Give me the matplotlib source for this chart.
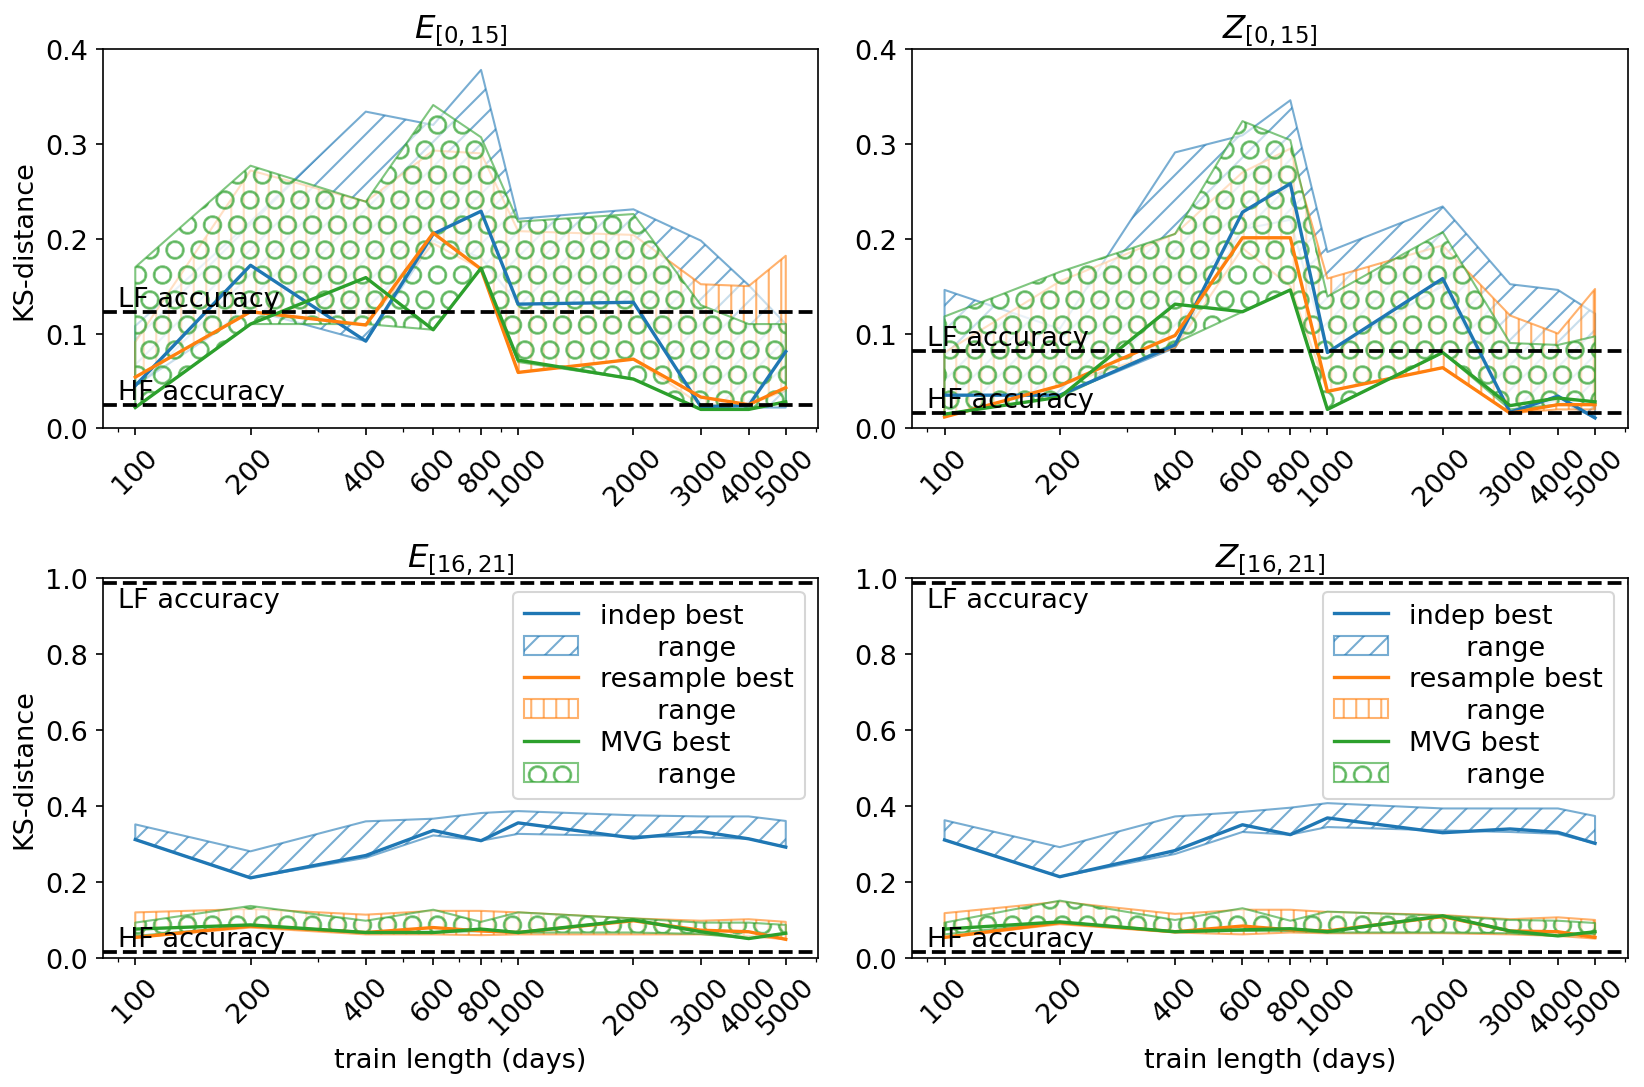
import matplotlib
matplotlib.use("Agg")
import matplotlib.pyplot as plt
from matplotlib.ticker import NullFormatter

plt.rcParams['font.size'] = 13
plt.rcParams['hatch.linewidth'] = 1.0

days = [100, 200, 400, 600, 800, 1000, 2000, 3000, 4000, 5000]
day_labels = [str(d) for d in days]

# E[0,15]
e015_indep_best = [0.045, 0.172, 0.092, 0.205, 0.229, 0.131, 0.133, 0.023, 0.024, 0.081]
e015_indep_lo = [0.045, 0.125, 0.092, 0.198, 0.180, 0.131, 0.133, 0.023, 0.022, 0.022]
e015_indep_hi = [0.108, 0.218, 0.334, 0.320, 0.378, 0.221, 0.231, 0.198, 0.151, 0.110]
e015_res_best = [0.054, 0.123, 0.109, 0.206, 0.168, 0.059, 0.073, 0.033, 0.025, 0.043]
e015_res_lo = [0.054, 0.123, 0.109, 0.195, 0.168, 0.059, 0.073, 0.025, 0.025, 0.040]
e015_res_hi = [0.091, 0.272, 0.239, 0.293, 0.290, 0.208, 0.204, 0.152, 0.150, 0.182]
e015_mvg_best = [0.022, 0.110, 0.159, 0.104, 0.169, 0.072, 0.052, 0.020, 0.020, 0.028]
e015_mvg_lo = [0.022, 0.110, 0.110, 0.104, 0.169, 0.070, 0.052, 0.020, 0.020, 0.028]
e015_mvg_hi = [0.170, 0.277, 0.239, 0.341, 0.307, 0.218, 0.226, 0.130, 0.110, 0.110]

# Z[0,15]
z015_indep_best = [0.035, 0.035, 0.088, 0.228, 0.258, 0.080, 0.158, 0.017, 0.034, 0.011]
z015_indep_lo = [0.035, 0.035, 0.085, 0.210, 0.220, 0.080, 0.150, 0.017, 0.030, 0.011]
z015_indep_hi = [0.146, 0.105, 0.291, 0.309, 0.346, 0.186, 0.234, 0.152, 0.146, 0.121]
z015_res_best = [0.012, 0.045, 0.098, 0.201, 0.201, 0.039, 0.064, 0.016, 0.025, 0.025]
z015_res_lo = [0.012, 0.045, 0.085, 0.190, 0.150, 0.039, 0.064, 0.016, 0.020, 0.020]
z015_res_hi = [0.080, 0.155, 0.205, 0.270, 0.295, 0.158, 0.193, 0.119, 0.100, 0.147]
z015_mvg_best = [0.015, 0.033, 0.131, 0.123, 0.146, 0.020, 0.080, 0.024, 0.032, 0.028]
z015_mvg_lo = [0.015, 0.033, 0.090, 0.123, 0.146, 0.020, 0.080, 0.020, 0.025, 0.025]
z015_mvg_hi = [0.118, 0.165, 0.205, 0.324, 0.304, 0.139, 0.207, 0.090, 0.088, 0.097]

# E[16,21]
e1621_indep_best = [0.311, 0.210, 0.269, 0.335, 0.308, 0.355, 0.315, 0.332, 0.313, 0.291]
e1621_indep_lo = [0.311, 0.210, 0.263, 0.322, 0.308, 0.326, 0.320, 0.317, 0.313, 0.291]
e1621_indep_hi = [0.351, 0.280, 0.359, 0.366, 0.381, 0.386, 0.375, 0.372, 0.372, 0.360]
e1621_res_best = [0.053, 0.083, 0.066, 0.079, 0.070, 0.066, 0.097, 0.072, 0.068, 0.048]
e1621_res_lo = [0.053, 0.079, 0.061, 0.061, 0.059, 0.061, 0.061, 0.061, 0.057, 0.048]
e1621_res_hi = [0.119, 0.128, 0.113, 0.123, 0.123, 0.119, 0.103, 0.097, 0.101, 0.094]
e1621_mvg_best = [0.075, 0.086, 0.066, 0.066, 0.075, 0.066, 0.099, 0.068, 0.050, 0.064]
e1621_mvg_lo = [0.057, 0.083, 0.066, 0.066, 0.070, 0.066, 0.066, 0.062, 0.050, 0.064]
e1621_mvg_hi = [0.092, 0.136, 0.097, 0.126, 0.094, 0.119, 0.103, 0.092, 0.092, 0.086]

# Z[16,21]
z1621_indep_best = [0.310, 0.213, 0.282, 0.350, 0.324, 0.368, 0.329, 0.339, 0.330, 0.301]
z1621_indep_lo = [0.310, 0.213, 0.273, 0.331, 0.324, 0.344, 0.335, 0.331, 0.326, 0.301]
z1621_indep_hi = [0.362, 0.291, 0.372, 0.384, 0.395, 0.407, 0.393, 0.393, 0.393, 0.373]
z1621_res_best = [0.053, 0.092, 0.068, 0.083, 0.073, 0.070, 0.108, 0.070, 0.068, 0.053]
z1621_res_lo = [0.053, 0.088, 0.066, 0.061, 0.066, 0.064, 0.064, 0.061, 0.057, 0.050]
z1621_res_hi = [0.117, 0.147, 0.115, 0.126, 0.126, 0.120, 0.112, 0.101, 0.106, 0.099]
z1621_mvg_best = [0.075, 0.094, 0.068, 0.073, 0.076, 0.068, 0.110, 0.070, 0.057, 0.068]
z1621_mvg_lo = [0.061, 0.094, 0.068, 0.070, 0.070, 0.066, 0.066, 0.064, 0.057, 0.062]
z1621_mvg_hi = [0.092, 0.150, 0.099, 0.130, 0.097, 0.121, 0.110, 0.099, 0.097, 0.091]

titles = [r'$E_{[0,15]}$', r'$Z_{[0,15]}$', r'$E_{[16,21]}$', r'$Z_{[16,21]}$']
lf_acc = [0.123, 0.082, 0.988, 0.988]
hf_acc = [0.025, 0.016, 0.015, 0.015]

panels = [
    (e015_indep_best, e015_indep_lo, e015_indep_hi, e015_res_best, e015_res_lo, e015_res_hi,
     e015_mvg_best, e015_mvg_lo, e015_mvg_hi),
    (z015_indep_best, z015_indep_lo, z015_indep_hi, z015_res_best, z015_res_lo, z015_res_hi,
     z015_mvg_best, z015_mvg_lo, z015_mvg_hi),
    (e1621_indep_best, e1621_indep_lo, e1621_indep_hi, e1621_res_best, e1621_res_lo, e1621_res_hi,
     e1621_mvg_best, e1621_mvg_lo, e1621_mvg_hi),
    (z1621_indep_best, z1621_indep_lo, z1621_indep_hi, z1621_res_best, z1621_res_lo, z1621_res_hi,
     z1621_mvg_best, z1621_mvg_lo, z1621_mvg_hi),
]

names = ['indep best', 'resample best', 'MVG best']
colors = ['tab:blue', 'tab:orange', 'tab:green']
hatches = ['//', '||', 'O']

fig, axes = plt.subplots(2, 2, figsize=(10.96, 7.2533), dpi=150)
fig.subplots_adjust(left=0.0625, right=0.99, top=0.954, bottom=0.119, wspace=0.131, hspace=0.395)

for i, ax in enumerate(axes.flat):
    data = panels[i]
    handles = []
    labels = []
    for k in range(3):
        best, lo, hi = data[3 * k], data[3 * k + 1], data[3 * k + 2]
        fill = ax.fill_between(days, lo, hi, facecolor='white', edgecolor=colors[k],
                               hatch=hatches[k], alpha=0.6, zorder=2)
        line, = ax.plot(days, best, color=colors[k], lw=1.6, zorder=3)
        handles += [line, fill]
        labels += [names[k], '      \u2009range']

    ax.axhline(lf_acc[i], color='k', ls='--', lw=1.8, zorder=4)
    ax.axhline(hf_acc[i], color='k', ls='--', lw=1.8, zorder=4)
    if i < 2:
        ax.text(90, lf_acc[i], 'LF accuracy', va='bottom', zorder=5)
        ax.set_ylim(0, 0.4)
        ax.set_yticks([0.0, 0.1, 0.2, 0.3, 0.4])
    else:
        ax.text(90, lf_acc[i] - 0.012, 'LF accuracy', va='top', zorder=5)
        ax.set_ylim(0, 1.0)
        ax.set_yticks([0.0, 0.2, 0.4, 0.6, 0.8, 1.0])
        ax.legend(handles, labels, loc='upper right', labelspacing=0.22)
        ax.set_xlabel('train length (days)')
    ax.text(90, hf_acc[i], 'HF accuracy', va='bottom', zorder=5)

    ax.set_xscale('log')
    ax.set_xticks(days)
    ax.set_xticklabels(day_labels, rotation=45)
    ax.xaxis.set_minor_formatter(NullFormatter())
    ax.set_title(titles[i])
    if i % 2 == 0:
        ax.set_ylabel('KS-distance')

fig.savefig('out.png', dpi=150)
